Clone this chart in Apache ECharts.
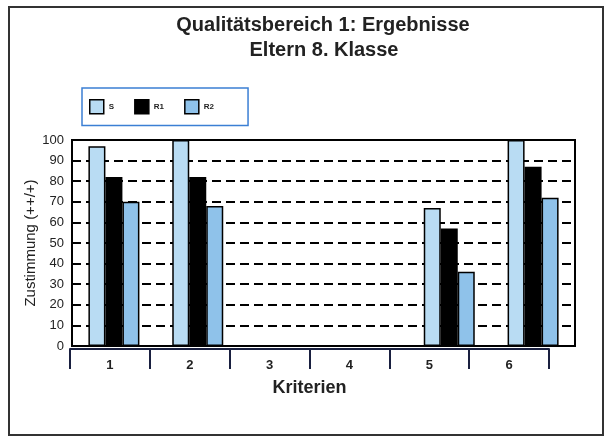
<!DOCTYPE html>
<html>
<head>
<meta charset="utf-8">
<script src="https://cdn.jsdelivr.net/npm/echarts@6/dist/echarts.min.js"></script>
<style>html,body{margin:0;padding:0;background:#fff}#c{width:605px;height:437px}</style>
</head>
<body>
<div id="c"></div>
<script>
var categories = ['1', '2', '3', '4', '5', '6'];
var seriesNames = ['S', 'R1', 'R2'];
var valuesS  = [97, 100, null, null, 67, 100];
var valuesR1 = [82, 82, null, null, 57, 87];
var valuesR2 = [70, 68, null, null, 36, 72];
var yTicks = { min: 0, max: 100, interval: 10 };
var titleLines = ['Qualitätsbereich 1: Ergebnisse', 'Eltern 8. Klasse'];

var FONT = '"Liberation Sans", Arial, sans-serif';
var chart = echarts.init(document.getElementById('c'), null, { renderer: 'canvas' });

function barSeries(name, data, color, border) {
  return {
    name: name, type: 'bar', data: data, xAxisIndex: 0, yAxisIndex: 0,
    barWidth: 17, barGap: '0%',
    itemStyle: { color: color, borderColor: '#000', borderWidth: border }
  };
}

chart.setOption({
  animation: false,
  textStyle: { fontFamily: FONT },
  graphic: [
    {
      type: 'rect', shape: { x: 9, y: 7, width: 594, height: 428 },
      style: { fill: null, stroke: '#333', lineWidth: 2 }, silent: true
    },
    {
      type: 'text', x: 323, y: 25,
      style: { text: titleLines[0], textAlign: 'center', textVerticalAlign: 'middle',
               font: 'bold 20px "Liberation Sans", Arial, sans-serif', fill: '#222' }
    },
    {
      type: 'text', x: 324, y: 50,
      style: { text: titleLines[1], textAlign: 'center', textVerticalAlign: 'middle',
               font: 'bold 20px "Liberation Sans", Arial, sans-serif', fill: '#222' }
    }
  ],
  legend: {
    left: 82, top: 88, orient: 'horizontal',
    data: seriesNames,
    itemWidth: 14, itemHeight: 14, itemGap: 20,
    padding: [11, 34, 11, 7],
    borderColor: '#3b7fd4', borderWidth: 1.5,
    icon: 'rect',
    itemStyle: { borderColor: '#000', borderWidth: 1.5 },
    textStyle: { fontFamily: FONT, fontSize: 8, fontWeight: 'bold', color: '#222', padding: [0, 0, 10, 0] }
  },
  grid: [
    { left: 72, right: 30, top: 140, bottom: 91, show: true, borderColor: '#000', borderWidth: 2, backgroundColor: 'transparent' },
    { left: 70, width: 479, top: 348, height: 1 }
  ],
  xAxis: [
    { type: 'category', gridIndex: 0, data: categories, show: false },
    {
      type: 'category', gridIndex: 1, data: categories,
      axisLine: { show: true, lineStyle: { color: '#1a2040', width: 2 } },
      axisTick: { show: true, length: 20, lineStyle: { color: '#1a2040', width: 2 } },
      axisLabel: { margin: 10, fontSize: 13, fontWeight: 'bold', color: '#222', fontFamily: FONT },
      name: 'Kriterien', nameLocation: 'middle', nameGap: 30,
      nameTextStyle: { fontSize: 18, fontWeight: 'bold', color: '#222', fontFamily: FONT }
    }
  ],
  yAxis: [
    {
      type: 'value', gridIndex: 0, min: yTicks.min, max: yTicks.max, interval: yTicks.interval,
      axisLine: { show: false }, axisTick: { show: false },
      axisLabel: { margin: 8, fontSize: 13, color: '#222', fontFamily: FONT },
      splitLine: { show: true, lineStyle: { color: '#000', width: 2, type: [9, 5] } },
      name: 'Zustimmung (++/+)', nameLocation: 'middle', nameGap: 34, nameRotate: 90,
      nameMoveOverlap: false,
      nameTextStyle: { fontSize: 15, color: '#222', fontFamily: FONT }
    },
    { type: 'value', gridIndex: 1, show: false }
  ],
  series: [
    barSeries('S', valuesS, '#b9dcf3', 1.5),
    barSeries('R1', valuesR1, '#000000', 0),
    barSeries('R2', valuesR2, '#8fc2ea', 1.5)
  ]
});
</script>
</body>
</html>
